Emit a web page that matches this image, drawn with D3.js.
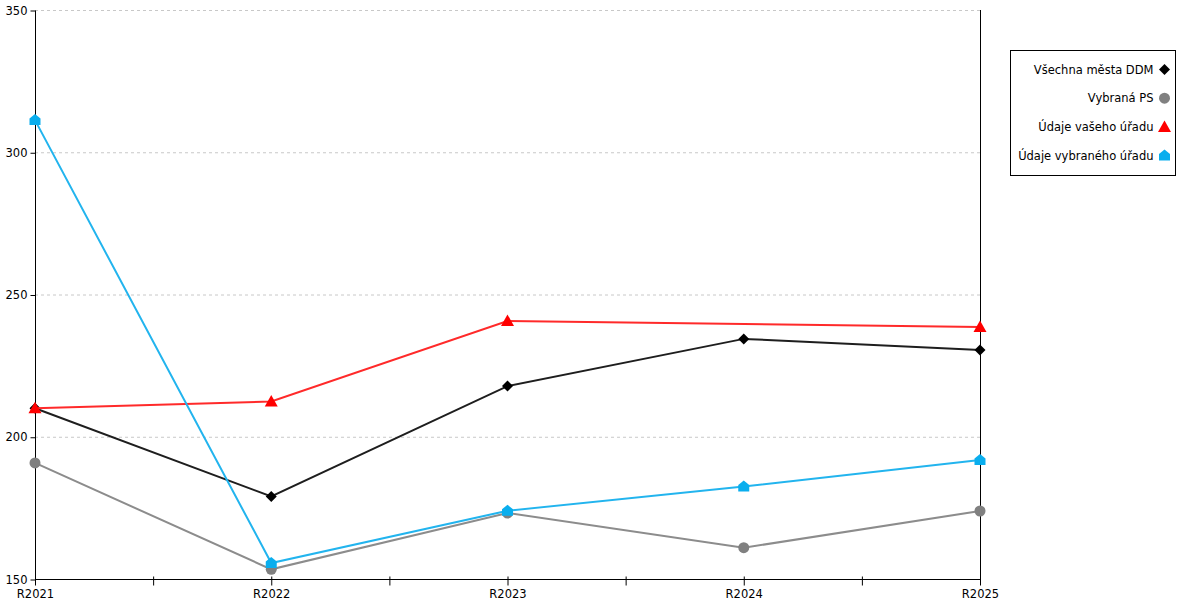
<!doctype html>
<html lang="cs">
<head>
    <meta charset="UTF-8">
    <title>Chart</title>
    <script src="https://d3js.org/d3.v7.min.js"></script>
    <style>
        body { margin: 0; background: #fff; }
        svg { display: block; }
        text { font-family: "DejaVu Sans", Verdana, sans-serif; font-size: 11.5px; fill: #000; }
        .grid line { stroke: #c8c8c8; stroke-dasharray: 3 3; }
        .series { fill: none; stroke-width: 2; }
    </style>
</head>
<body>
    <svg width="1200" height="600"></svg>

    <script>
        const categories = ['R2021', 'R2022', 'R2023', 'R2024', 'R2025'];
        const yTicks = [150, 200, 250, 300, 350];

        const vsechnaMesta = [210, 179, 217.8, 234.4, 230.5];
        const vybranaPS = [190.8, 153.4, 173.2, 161, 173.9];
        const udajeVaseho = [210, 212.4, 240.7, null, 238.6];
        const udajeVybraneho = [311.3, 155.6, 174, 182.5, 191.8];

        const seriesList = [
            { name: 'Všechna města DDM', values: vsechnaMesta, color: '#1e1e1e', marker: '#000', shape: 'diamond' },
            { name: 'Vybraná PS', values: vybranaPS, color: '#8c8c8c', marker: '#808080', shape: 'circle' },
            { name: 'Údaje vašeho úřadu', values: udajeVaseho, color: '#ff2a2a', marker: '#ff0000', shape: 'triangle' },
            { name: 'Údaje vybraného úřadu', values: udajeVybraneho, color: '#22b4ee', marker: '#0aaeee', shape: 'house' }
        ];

        const svg = d3.select('svg');
        const plotLeft = 35, plotRight = 980, plotTop = 10, plotBottom = 579;

        const x = d3.scalePoint().domain(categories).range([plotLeft, plotRight]);
        const y = d3.scaleLinear().domain([150, 350]).range([plotBottom, plotTop]);

        // grid
        svg.append('g').attr('class', 'grid')
            .selectAll('line')
            .data(yTicks.slice(1))
            .join('line')
            .attr('x1', plotLeft).attr('x2', plotRight)
            .attr('y1', d => y(d) + 0.5).attr('y2', d => y(d) + 0.5);

        // y axis
        const yAxis = svg.append('g')
            .attr('transform', `translate(${plotLeft + 0.5},0.5)`)
            .call(d3.axisLeft(y).tickValues(yTicks).tickSize(5).tickPadding(3));
        yAxis.select('.domain').attr('d', `M0,${plotTop}V${plotBottom}`);
        yAxis.selectAll('text').style('font-size', '11.5px').style('font-family', '"DejaVu Sans", sans-serif');

        // right line
        svg.append('line')
            .attr('x1', plotRight + 0.5).attr('x2', plotRight + 0.5)
            .attr('y1', plotTop).attr('y2', plotBottom)
            .attr('stroke', '#000');

        // x axis
        const xAxis = svg.append('g').attr('transform', `translate(0.5,${plotBottom + 0.5})`);
        xAxis.append('line').attr('x1', plotLeft - 0.5).attr('x2', plotRight).attr('stroke', '#000');
        const step = x.step();
        const tickPos = [];
        categories.forEach((c, i) => {
            tickPos.push(x(c));
            if (i < categories.length - 1) tickPos.push(x(c) + step / 2);
        });
        xAxis.selectAll('.tk').data(tickPos).join('line')
            .attr('x1', d => d).attr('x2', d => d)
            .attr('y1', -3).attr('y2', 6)
            .attr('stroke', '#000');
        xAxis.selectAll('.lbl').data(categories).join('text')
            .attr('x', d => x(d)).attr('y', 18)
            .attr('text-anchor', 'middle')
            .text(d => d);

        function markerPath(shape) {
            switch (shape) {
                case 'diamond': return 'M0,-5.5L5.5,0L0,5.5L-5.5,0Z';
                case 'triangle': return 'M0,-6.5L6.5,5L-6.5,5Z';
                case 'house': return 'M0,-6L5.5,-1.5L5.5,5L-5.5,5L-5.5,-1.5Z';
                default: return d3.symbol(d3.symbolCircle, 95)();
            }
        }

        const line = d3.line()
            .x(d => x(d.c))
            .y(d => y(d.v));

        seriesList.forEach(s => {
            const pts = categories.map((c, i) => ({ c, v: s.values[i] }));
            const valid = pts.filter(p => p.v !== null);
            svg.append('path')
                .attr('class', 'series')
                .attr('stroke', s.color)
                .attr('d', line(valid));
            svg.append('g').selectAll('path')
                .data(valid)
                .join('path')
                .attr('transform', d => `translate(${x(d.c)},${y(d.v)})`)
                .attr('d', markerPath(s.shape))
                .attr('fill', s.marker);
        });

        // legend
        const lg = svg.append('g').attr('transform', 'translate(1010.5,50.5)');
        lg.append('rect').attr('width', 165).attr('height', 125)
            .attr('fill', '#fff').attr('stroke', '#000');
        seriesList.forEach((s, i) => {
            const cy = 19 + i * 28.7;
            lg.append('text')
                .attr('x', 143).attr('y', cy)
                .attr('dy', '0.35em')
                .attr('text-anchor', 'end')
                .text(s.name);
            lg.append('path')
                .attr('transform', `translate(154,${cy})`)
                .attr('d', markerPath(s.shape))
                .attr('fill', s.marker);
        });
    </script>
</body>
</html>
